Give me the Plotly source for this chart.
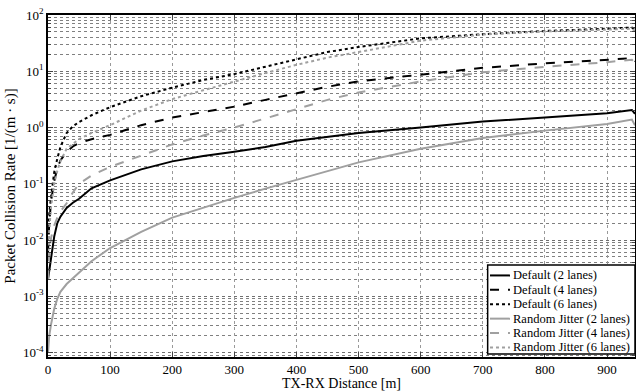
import plotly.graph_objects as go

distance = [0, 2, 5, 10, 15, 20, 30, 40, 50, 70, 100, 150, 200, 250, 300, 350, 400, 450, 500, 600, 700, 800, 900, 940, 945]

default_2 = [0.002, 0.0028, 0.005, 0.0115, 0.02, 0.026, 0.037, 0.046, 0.054, 0.083, 0.115, 0.18, 0.25, 0.31, 0.37, 0.45, 0.58, 0.68, 0.8, 1.0, 1.28, 1.5, 1.8, 2.05, 1.75]
default_4 = [0.006, 0.02, 0.05, 0.11, 0.19, 0.26, 0.37, 0.46, 0.53, 0.62, 0.74, 1.1, 1.5, 1.9, 2.35, 3.1, 4.1, 5.3, 6.6, 8.6, 11.5, 13.8, 16, 17, 15]
default_6 = [0.008, 0.03, 0.06, 0.16, 0.28, 0.45, 0.8, 1.05, 1.25, 1.65, 2.3, 3.6, 5.1, 7, 8.9, 12, 16, 22, 27, 38.5, 45.6, 52, 57, 60, 54]
jitter_2 = [1e-4, 2e-4, 3.2e-4, 6e-4, 9e-4, 1.2e-3, 1.65e-3, 2.1e-3, 2.7e-3, 4.2e-3, 7.2e-3, 0.014, 0.025, 0.038, 0.056, 0.082, 0.118, 0.17, 0.24, 0.42, 0.65, 0.88, 1.15, 1.38, 1.1]
jitter_4 = [0.002, 0.006, 0.011, 0.018, 0.025, 0.032, 0.045, 0.07, 0.1, 0.14, 0.2, 0.32, 0.5, 0.72, 1.0, 1.45, 2.1, 3.1, 4.2, 6.6, 9.6, 12, 14.5, 16, 14]
jitter_6 = [0.005, 0.015, 0.04, 0.1, 0.17, 0.25, 0.42, 0.52, 0.62, 0.8, 1.1, 2.0, 3.2, 4.6, 6.6, 9.3, 13, 17.5, 22, 35, 45, 51, 55, 57, 52]

series_names = ["Default (2 lanes)", "Default (4 lanes)", "Default (6 lanes)",
                "Random Jitter (2 lanes)", "Random Jitter (4 lanes)", "Random Jitter (6 lanes)"]
series_values = [default_2, default_4, default_6, jitter_2, jitter_4, jitter_6]

x_tickvals = [0, 100, 200, 300, 400, 500, 600, 700, 800, 900]
y_exponents = [-4, -3, -2, -1, 0, 1, 2]
y_ticktext = ["10<sup>%d</sup>" % e for e in y_exponents]
y_tickvals = [10.0 ** e for e in y_exponents]
y_minorvals = [m * 10.0 ** e for e in [-5] + y_exponents for m in range(2, 10)]

colors = ["black", "black", "black", "#a0a0a0", "#a0a0a0", "#a0a0a0"]
dashes = ["solid", "dash", "dot", "solid", "dash", "dot"]

font = "Liberation Serif"

fig = go.Figure()
for name, vals, c, d in zip(series_names, series_values, colors, dashes):
    fig.add_trace(go.Scatter(x=distance, y=vals, name=name, mode="lines",
                             line=dict(color=c, dash=d, width=2), showlegend=False))

# hand-drawn legend box (paper coordinates)
lx0, lx1, ly0, ly1 = 0.749, 1.0, 0.009, 0.269
fig.add_shape(type="rect", xref="paper", yref="paper", x0=lx0, x1=lx1, y0=ly0, y1=ly1,
              line=dict(color="black", width=1.5), fillcolor="white", layer="above")
row_top, row_step = 0.2385, 0.0421
for i, (name, c, d) in enumerate(zip(series_names, colors, dashes)):
    yy = row_top - i * row_step
    fig.add_shape(type="line", xref="paper", yref="paper", x0=0.753, x1=0.787, y0=yy, y1=yy,
                  line=dict(color=c, dash=d, width=2), layer="above")
    fig.add_annotation(xref="paper", yref="paper", x=0.789, y=yy, text=name, showarrow=False,
                       xanchor="left", yanchor="middle", font=dict(family=font, size=12.5, color="black"))

fig.update_layout(
    width=636, height=391,
    margin=dict(l=48, r=1, t=15, b=34),
    paper_bgcolor="white", plot_bgcolor="white",
    font=dict(family=font, size=13, color="black"),
    showlegend=False,
)
fig.update_xaxes(
    range=[0, 945], tickvals=x_tickvals, ticks="inside", ticklen=5,
    showline=True, linecolor="black", linewidth=1.5, mirror="ticks",
    showgrid=True, gridcolor="#999999", griddash="dot", gridwidth=1,
    zeroline=False, automargin=False,
    tickfont=dict(family=font, size=13),
    title=dict(text="TX-RX Distance [m]", font=dict(family=font, size=14), standoff=4),
)
fig.update_yaxes(
    type="log", range=[-4.08, 2], tickmode="array", tickvals=y_tickvals, ticktext=y_ticktext,
    ticks="inside", ticklen=5,
    showline=True, linecolor="black", linewidth=1.5, mirror="ticks",
    showgrid=True, gridcolor="#707070", griddash="dot", gridwidth=1,
    minor=dict(tickmode="array", tickvals=y_minorvals, ticks="inside", ticklen=3,
               showgrid=True, gridcolor="#808080", griddash="dot", gridwidth=1),
    zeroline=False, automargin=False,
    tickfont=dict(family=font, size=13),
    title=dict(text="Packet Collision Rate [1/(m · s)]", font=dict(family=font, size=15), standoff=4),
)

fig.write_html("out.html", post_script="document.body.style.margin='0';",
               config={"displayModeBar": False})
